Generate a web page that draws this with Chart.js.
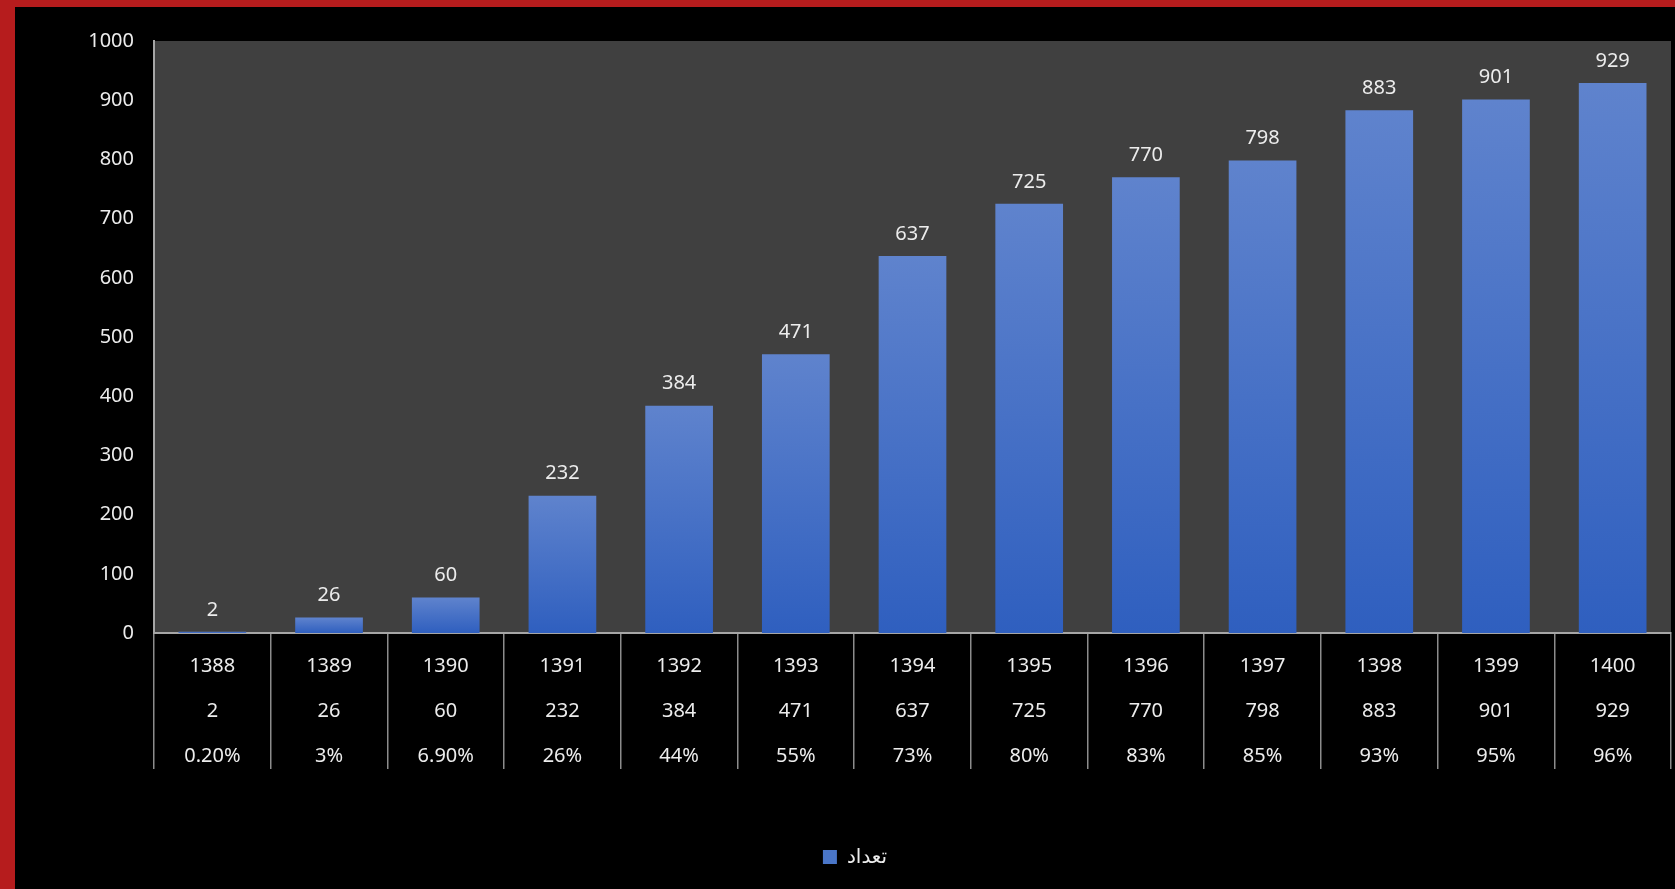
<!DOCTYPE html>
<html>
<head>
<meta charset="utf-8">
<script src="https://cdn.jsdelivr.net/npm/chart.js@4.4.1/dist/chart.umd.min.js"></script>
<style>
  html, body { margin: 0; padding: 0; width: 1675px; height: 889px; overflow: hidden; background: #b61c1d; }
  #wrap { position: absolute; left: 15px; top: 7px; width: 1660px; height: 882px; background: #000; }
</style>
</head>
<body>
<div id="wrap"><canvas id="countChart"></canvas></div>
<script>
// ── Data ─────────────────────────────────────────────────────────────
const years  = ['1388', '1389', '1390', '1391', '1392', '1393', '1394', '1395', '1396', '1397', '1398', '1399', '1400'];
const counts = [2, 26, 60, 232, 384, 471, 637, 725, 770, 798, 883, 901, 929];
const shares = ['0.20%', '3%', '6.90%', '26%', '44%', '55%', '73%', '80%', '83%', '85%', '93%', '95%', '96%'];
const seriesName = 'تعداد';
const yMin = 0, yMax = 1000, yStep = 100;

const FONT = '"Noto Sans", "DejaVu Sans", sans-serif';
const TEXT = '#ececec';

// data table under the axis: year / count / share
const tableLabels = years.map((y, i) => [y, String(counts[i]), shares[i]]);

// ── Plot background ──────────────────────────────────────────────────
const plotBg = {
  id: 'plotBg',
  beforeDraw(chart) {
    const { ctx, chartArea: a } = chart;
    ctx.save();
    ctx.fillStyle = '#404040';
    ctx.fillRect(a.left, a.top, a.right - a.left, a.bottom - a.top);
    ctx.restore();
  },
};

// ── Value labels above bars ──────────────────────────────────────────
const valueLabels = {
  id: 'valueLabels',
  afterDatasetsDraw(chart) {
    const { ctx } = chart;
    ctx.save();
    ctx.fillStyle = TEXT;
    ctx.font = '20px ' + FONT;
    ctx.textAlign = 'center';
    ctx.textBaseline = 'middle';
    chart.getDatasetMeta(0).data.forEach((bar, i) => {
      ctx.fillText(String(counts[i]), bar.x, bar.y - 22);
    });
    ctx.restore();
  },
};

// per-bar vertical gradient, lighter at the top
function barFill(c) {
  const chart = c.chart;
  if (!chart.chartArea || c.raw === undefined) return '#4a76c8';
  const top = chart.scales.y.getPixelForValue(c.raw);
  const bottom = chart.scales.y.getPixelForValue(0);
  const g = chart.ctx.createLinearGradient(0, top, 0, bottom + 0.01);
  g.addColorStop(0, '#5f83cd');
  g.addColorStop(1, '#2f5fbf');
  return g;
}

new Chart(document.getElementById('countChart'), {
  type: 'bar',
  data: {
    labels: tableLabels,
    datasets: [{
      label: seriesName,
      data: counts,
      backgroundColor: barFill,
      borderWidth: 0,
      categoryPercentage: 1,
      barPercentage: 0.58,
    }],
  },
  options: {
    responsive: true,
    maintainAspectRatio: false,
    animation: false,
    // left padding nudges the full-width legend right; y axis width makes up for it
    layout: { padding: { top: 34, right: 4, left: 24, bottom: 12 } },
    plugins: {
      tooltip: { enabled: false },
      legend: {
        display: true,
        position: 'bottom',
        labels: {
          color: TEXT,
          boxWidth: 14,
          boxHeight: 14,
          padding: 10,
          font: { size: 20, family: FONT },
          generateLabels: () => [{
            text: seriesName,
            fillStyle: '#4a76c8',
            strokeStyle: '#4a76c8',
            lineWidth: 0,
            fontColor: TEXT,
            hidden: false,
            datasetIndex: 0,
          }],
        },
      },
    },
    scales: {
      x: {
        grid: {
          display: true,
          drawOnChartArea: false,
          offset: true,
          tickLength: 136,
          color: '#8c8c8c',
          lineWidth: 1.5,
        },
        border: { display: true, color: '#a6a6a6', width: 2 },
        ticks: {
          color: TEXT,
          font: { size: 20, family: FONT, lineHeight: 2.25 },
          padding: -125,
          autoSkip: false,
          maxRotation: 0,
          minRotation: 0,
        },
        afterFit(scale) { scale.height = 204; },
      },
      y: {
        min: yMin,
        max: yMax,
        grid: { display: false },
        border: { display: true, color: '#a6a6a6', width: 2 },
        ticks: {
          stepSize: yStep,
          color: TEXT,
          font: { size: 20, family: FONT },
          padding: 12,
          callback: v => String(v),
        },
        afterFit(scale) { scale.width = 115; },
      },
    },
  },
  plugins: [plotBg, valueLabels],
});
</script>
</body>
</html>
